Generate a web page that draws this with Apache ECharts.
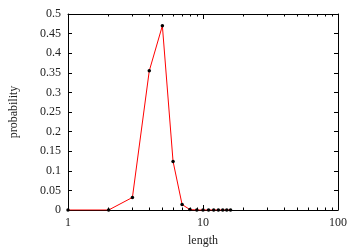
<!DOCTYPE html>
<html>
<head>
<meta charset="utf-8">
<script src="https://cdn.jsdelivr.net/npm/echarts@6/dist/echarts.min.js"></script>
<style>html,body{margin:0;padding:0;background:#fff}#c{width:360px;height:252px}</style>
</head>
<body>
<div id="c"></div>
<script>
var lengths = [1, 2, 3, 4, 5, 6, 7, 8, 9, 10, 11, 12, 13, 14, 15, 16];
var probability = [0, 0, 0.032, 0.355, 0.47, 0.124, 0.014, 0.001, 0, 0, 0, 0, 0, 0, 0, 0];
var xMajorTicks = [1, 10, 100];
var xMinorTicks = [2, 3, 4, 5, 6, 7, 8, 9, 20, 30, 40, 50, 60, 70, 80, 90];

var font = 'Liberation Serif';
var txt = '#222';
var lineStyle = {color: '#000', width: 1};

function logAxis(pos, major, showLine) {
  return {
    type: 'log', logBase: 10, min: 1, max: 100, position: pos,
    axisLine: {show: showLine, lineStyle: lineStyle},
    axisTick: {show: true, inside: true, length: major ? 5 : 2.5, customValues: major ? xMajorTicks : xMinorTicks, lineStyle: lineStyle},
    axisLabel: {show: major && pos === 'bottom', customValues: xMajorTicks, fontFamily: font, fontSize: 12, color: txt, margin: 7,
      formatter: function (v) { return String(Math.round(v)); }},
    splitLine: {show: false},
    name: (major && pos === 'bottom') ? 'length' : '',
    nameLocation: 'middle', nameGap: 25,
    nameTextStyle: {fontFamily: font, fontSize: 12, color: txt}
  };
}
function valAxis(pos) {
  return {
    type: 'value', min: 0, max: 0.5, interval: 0.05, position: pos,
    axisLine: {show: true, lineStyle: lineStyle},
    axisTick: {show: true, inside: true, length: 4, lineStyle: lineStyle},
    axisLabel: {show: pos === 'left', fontFamily: font, fontSize: 12, color: txt, margin: 7},
    splitLine: {show: false},
    name: pos === 'left' ? 'probability' : '',
    nameLocation: 'middle', nameGap: 48, nameRotate: 90,
    nameTextStyle: {fontFamily: font, fontSize: 12, color: txt}
  };
}

var chart = echarts.init(document.getElementById('c'), null, {renderer: 'canvas'});
chart.setOption({
  animation: false,
  backgroundColor: '#fff',
  grid: {left: 66, right: 22, top: 14, bottom: 39, containLabel: false},
  xAxis: [logAxis('bottom', true, true), logAxis('bottom', false, false), logAxis('top', true, true), logAxis('top', false, false)],
  yAxis: [valAxis('left'), valAxis('right')],
  series: [{
    type: 'line',
    xAxisIndex: 0, yAxisIndex: 0,
    data: lengths.map(function (l, i) { return [l, probability[i]]; }),
    lineStyle: {color: '#ff0000', width: 1},
    itemStyle: {color: '#000'},
    symbol: 'circle', symbolSize: 3.5,
    showSymbol: true,
    z: 5
  }]
});
</script>
</body>
</html>
